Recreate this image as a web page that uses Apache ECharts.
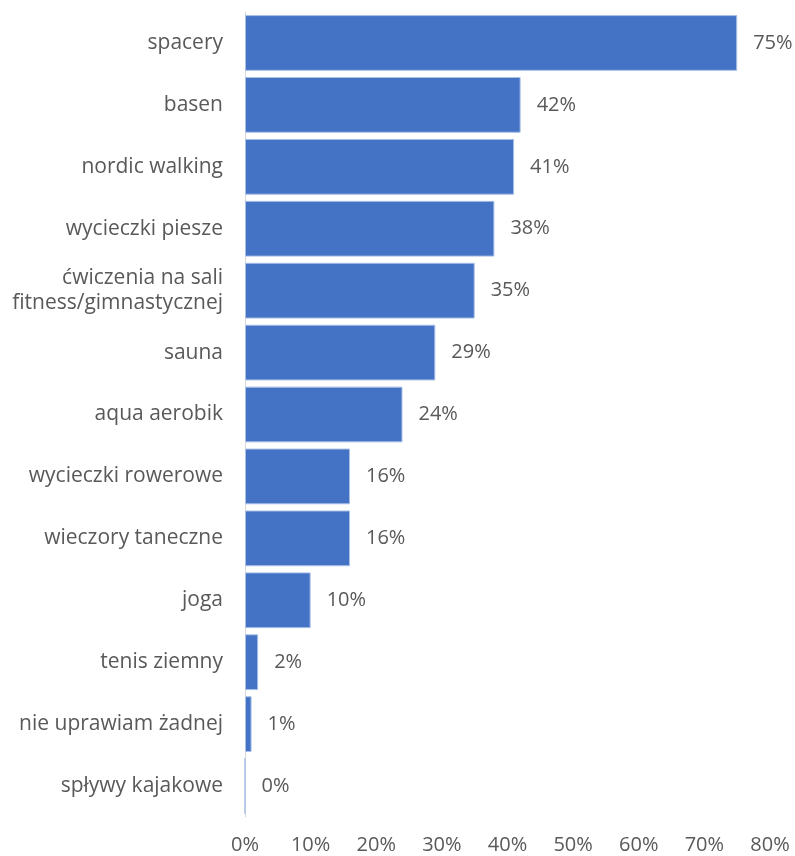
<!DOCTYPE html>
<html>
<head>
<meta charset="utf-8">
<script src="https://cdn.jsdelivr.net/npm/echarts@6/dist/echarts.min.js"></script>
<style>
  html, body { margin: 0; padding: 0; background: #ffffff; }
  #chart { width: 795px; height: 856px; }
</style>
</head>
<body>
<div id="chart"></div>
<script>
// Activities, listed top to bottom
const categories = [
  'spacery',
  'basen',
  'nordic walking',
  'wycieczki piesze',
  'ćwiczenia na sali\nfitness/gimnastycznej',
  'sauna',
  'aqua aerobik',
  'wycieczki rowerowe',
  'wieczory taneczne',
  'joga',
  'tenis ziemny',
  'nie uprawiam żadnej',
  'spływy kajakowe'
];
// Share of respondents, in percent
const shares = [75, 42, 41, 38, 35, 29, 24, 16, 16, 10, 2, 1, 0];
// Horizontal axis ticks (percent)
const axisTicks = [0, 10, 20, 30, 40, 50, 60, 70, 80];

const FONT = 'Open Sans';
const TEXT = '#595959';

const chart = echarts.init(document.getElementById('chart'), null, { renderer: 'canvas' });
chart.setOption({
  animation: false,
  backgroundColor: '#ffffff',
  grid: { left: 245, right: 25, top: 12, bottom: 39, containLabel: false },
  xAxis: {
    type: 'value',
    min: axisTicks[0],
    max: axisTicks[axisTicks.length - 1],
    interval: axisTicks[1] - axisTicks[0],
    axisLine: { show: false },
    axisTick: { show: false },
    splitLine: { show: false },
    axisLabel: {
      formatter: v => v + '%',
      color: TEXT,
      fontFamily: FONT,
      fontSize: 20,
      margin: 18
    }
  },
  yAxis: {
    type: 'category',
    inverse: true,
    data: categories,
    axisLine: { show: true, lineStyle: { color: '#d9d9d9', width: 1 } },
    axisTick: { show: false },
    axisLabel: {
      color: TEXT,
      fontFamily: FONT,
      fontSize: 21,
      margin: 22,
      lineHeight: 25,
      align: 'right'
    }
  },
  series: [{
    type: 'bar',
    data: shares,
    barCategoryGap: '10%',
    itemStyle: { color: '#4472C4', borderColor: '#a9bfe6', borderWidth: 1 },
    label: {
      show: true,
      position: 'right',
      distance: 16,
      formatter: p => p.value + '%',
      color: TEXT,
      fontFamily: FONT,
      fontSize: 20
    }
  }]
});
</script>
</body>
</html>
